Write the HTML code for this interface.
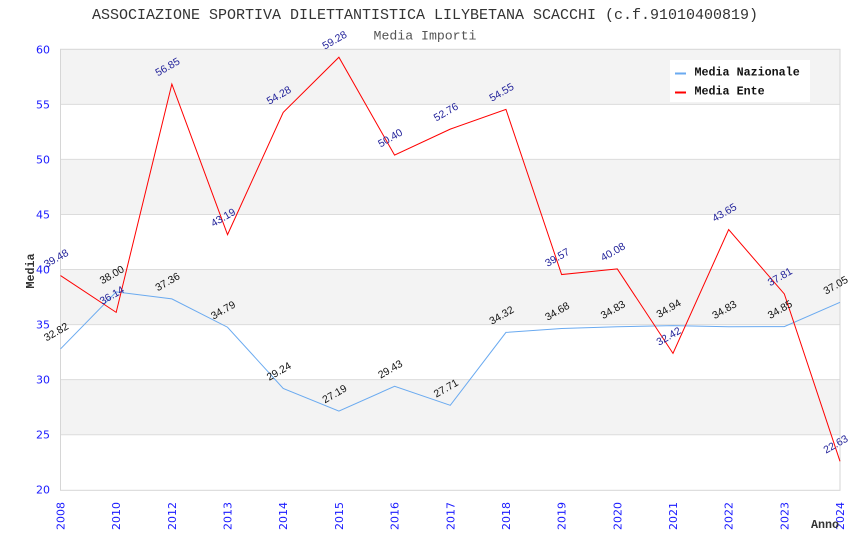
<!DOCTYPE html>
<html><head><meta charset="utf-8"><style>
html,body{margin:0;padding:0;background:#fff;}
svg{display:block;}
.t{font-family:"Liberation Mono",monospace;}
.v{font-family:"Liberation Sans",sans-serif;font-size:10.5px;}
.tk{font-family:"DejaVu Sans",sans-serif;font-size:11px;fill:#1a1aff;}
</style></head><body>
<svg width="850" height="550" viewBox="0 0 850 550" xmlns="http://www.w3.org/2000/svg">
<rect width="850" height="550" fill="#fff"/>
<!-- bands -->
<rect x="60.5" y="49.3" width="779.5" height="55.1" fill="#f3f3f3"/>
<rect x="60.5" y="159.4" width="779.5" height="55.1" fill="#f3f3f3"/>
<rect x="60.5" y="269.5" width="779.5" height="55.1" fill="#f3f3f3"/>
<rect x="60.5" y="379.6" width="779.5" height="55.1" fill="#f3f3f3"/>
<g stroke="#dcdcdc" stroke-width="1">
<line x1="60.5" y1="104.4" x2="840" y2="104.4"/>
<line x1="60.5" y1="159.4" x2="840" y2="159.4"/>
<line x1="60.5" y1="214.5" x2="840" y2="214.5"/>
<line x1="60.5" y1="269.5" x2="840" y2="269.5"/>
<line x1="60.5" y1="324.6" x2="840" y2="324.6"/>
<line x1="60.5" y1="379.6" x2="840" y2="379.6"/>
<line x1="60.5" y1="434.7" x2="840" y2="434.7"/>
</g>
<rect x="60.5" y="49.3" width="779.5" height="441" fill="none" stroke="#d6d6d6" stroke-width="1"/>
<!-- titles -->
<text class="t" x="425" y="19" font-size="15" fill="#333" text-anchor="middle">ASSOCIAZIONE SPORTIVA DILETTANTISTICA LILYBETANA SCACCHI (c.f.91010400819)</text>
<text class="t" x="425" y="39.5" font-size="13.2" fill="#555" text-anchor="middle">Media Importi</text>
<!-- y ticks -->
<g class="tk" text-anchor="end">
<text x="50" y="53.3">60</text>
<text x="50" y="108.4">55</text>
<text x="50" y="163.4">50</text>
<text x="50" y="218.5">45</text>
<text x="50" y="273.5">40</text>
<text x="50" y="328.6">35</text>
<text x="50" y="383.6">30</text>
<text x="50" y="438.7">25</text>
<text x="50" y="493.7">20</text>
</g>
<!-- x ticks -->
<g class="tk" text-anchor="end">
<text transform="translate(64.5,502) rotate(-90)">2008</text>
<text transform="translate(120.2,502) rotate(-90)">2010</text>
<text transform="translate(175.9,502) rotate(-90)">2012</text>
<text transform="translate(231.5,502) rotate(-90)">2013</text>
<text transform="translate(287.2,502) rotate(-90)">2014</text>
<text transform="translate(342.9,502) rotate(-90)">2015</text>
<text transform="translate(398.6,502) rotate(-90)">2016</text>
<text transform="translate(454.3,502) rotate(-90)">2017</text>
<text transform="translate(509.9,502) rotate(-90)">2018</text>
<text transform="translate(565.6,502) rotate(-90)">2019</text>
<text transform="translate(621.3,502) rotate(-90)">2020</text>
<text transform="translate(677,502) rotate(-90)">2021</text>
<text transform="translate(732.7,502) rotate(-90)">2022</text>
<text transform="translate(788.3,502) rotate(-90)">2023</text>
<text transform="translate(844,502) rotate(-90)">2024</text>
</g>
<!-- axis titles -->
<text class="t" transform="translate(34,271) rotate(-90)" font-size="11.7" font-weight="bold" fill="#333" text-anchor="middle">Media</text>
<text class="t" x="811" y="528" font-size="11.7" font-weight="bold" fill="#333">Anno</text>
<!-- series -->
<polyline fill="none" stroke="#6aaaf0" stroke-width="1" points="60.5,348.96 116.18,291.85 171.86,298.91 227.54,327.24 283.22,388.43 338.9,411.03 394.58,386.33 450.26,405.3 505.94,332.42 561.62,328.45 617.3,326.8 672.98,325.59 728.66,326.8 784.34,326.58 840,302.32"/>
<polyline fill="none" stroke="#ff0000" stroke-width="1" points="60.5,275.53 116.18,312.36 171.86,84.03 227.54,234.63 283.22,112.36 338.9,57.24 394.58,155.14 450.26,129.12 505.94,109.39 561.62,274.54 617.3,268.92 672.98,353.37 728.66,229.56 784.34,293.94 840,461.3"/>
<!-- labels nazionale -->
<g class="v" fill="#111">
<text transform="translate(46.5,341.5) rotate(-30)">32.82</text>
<text transform="translate(102.2,284.4) rotate(-30)">38.00</text>
<text transform="translate(157.9,291.4) rotate(-30)">37.36</text>
<text transform="translate(213.5,319.7) rotate(-30)">34.79</text>
<text transform="translate(269.2,380.9) rotate(-30)">29.24</text>
<text transform="translate(324.9,403.5) rotate(-30)">27.19</text>
<text transform="translate(380.6,378.8) rotate(-30)">29.43</text>
<text transform="translate(436.3,397.8) rotate(-30)">27.71</text>
<text transform="translate(491.9,324.9) rotate(-30)">34.32</text>
<text transform="translate(547.6,320.9) rotate(-30)">34.68</text>
<text transform="translate(603.3,319.3) rotate(-30)">34.83</text>
<text transform="translate(659,318.1) rotate(-30)">34.94</text>
<text transform="translate(714.7,319.3) rotate(-30)">34.83</text>
<text transform="translate(770.3,319.1) rotate(-30)">34.85</text>
<text transform="translate(826,294.8) rotate(-30)">37.05</text>
</g>
<!-- labels ente -->
<g class="v" fill="#22229a">
<text transform="translate(46.5,268) rotate(-30)">39.48</text>
<text transform="translate(102.2,304.9) rotate(-30)">36.14</text>
<text transform="translate(157.9,76.5) rotate(-30)">56.85</text>
<text transform="translate(213.5,227.1) rotate(-30)">43.19</text>
<text transform="translate(269.2,104.9) rotate(-30)">54.28</text>
<text transform="translate(324.9,49.7) rotate(-30)">59.28</text>
<text transform="translate(380.6,147.6) rotate(-30)">50.40</text>
<text transform="translate(436.3,121.6) rotate(-30)">52.76</text>
<text transform="translate(491.9,101.9) rotate(-30)">54.55</text>
<text transform="translate(547.6,267) rotate(-30)">39.57</text>
<text transform="translate(603.3,261.4) rotate(-30)">40.08</text>
<text transform="translate(659,345.9) rotate(-30)">32.42</text>
<text transform="translate(714.7,222.1) rotate(-30)">43.65</text>
<text transform="translate(770.3,286.4) rotate(-30)">37.81</text>
<text transform="translate(826,453.8) rotate(-30)">22.63</text>
</g>
<!-- legend -->
<rect x="670" y="60" width="140" height="42" fill="#fff"/>
<rect x="675" y="72.5" width="11" height="2" fill="#6aaaf0"/>
<rect x="675" y="91.5" width="11" height="2" fill="#ff0000"/>
<text class="t" x="694.5" y="75.5" font-size="11.7" font-weight="bold" fill="#111">Media Nazionale</text>
<text class="t" x="694.5" y="94.3" font-size="11.7" font-weight="bold" fill="#111">Media Ente</text>
</svg>
</body></html>
